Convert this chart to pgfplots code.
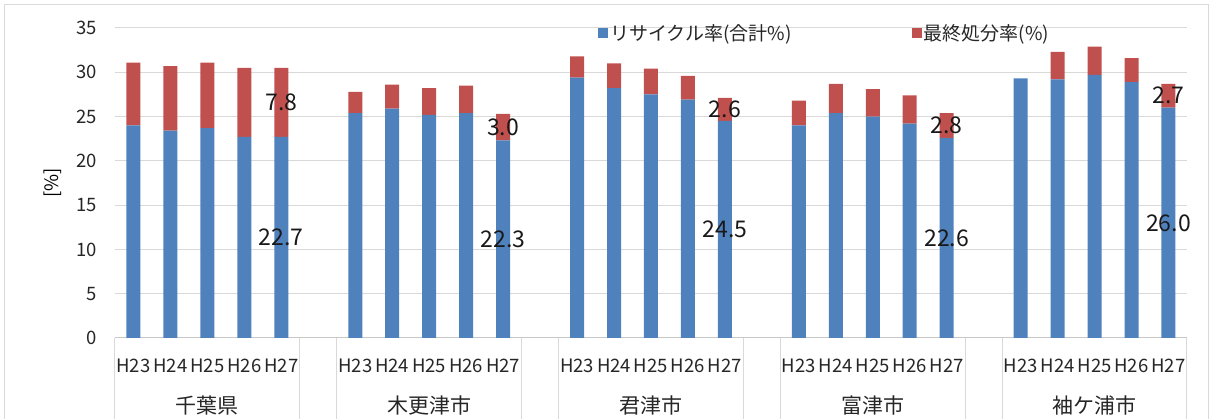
\documentclass[border=0pt]{standalone}
\usepackage{pgfplots}
\usepackage{pgfplotstable}
\pgfplotsset{compat=1.18}
\usepackage{fontspec}
\setmainfont{Noto Sans CJK JP}
\definecolor{cblue}{HTML}{4F81BD}
\definecolor{cred}{HTML}{C0504D}
\definecolor{cgrid}{HTML}{D9D9D9}
\definecolor{caxis}{HTML}{C8C8C8}
\tikzset{grp/.style={font=\fontsize{21}{24}\selectfont, anchor=base, text=black!85},
         dlab/.style={font=\fontsize{23}{26}\selectfont, text=black!90}}

\pgfplotstableread{
x rec fin
0 24.0 7.1
1 23.4 7.3
2 23.7 7.4
3 22.7 7.8
4 22.7 7.8
6 25.4 2.4
7 25.9 2.7
8 25.2 3.0
9 25.4 3.1
10 22.3 3.0
12 29.4 2.4
13 28.2 2.8
14 27.5 2.9
15 26.9 2.7
16 24.5 2.6
18 24.0 2.8
19 25.4 3.3
20 25.0 3.1
21 24.2 3.2
22 22.6 2.8
24 29.3 0.0
25 29.2 3.1
26 29.7 3.2
27 28.9 2.7
28 26.0 2.7
}\mytab

\begin{document}
\begin{tikzpicture}
\path[use as bounding box] (-115pt,-81pt) rectangle (1098pt,338pt);
\draw[cgrid, line width=1pt] (-110pt,-95pt) rectangle (1093pt,333pt);
\begin{axis}[
  at={(0,0)}, anchor=south west,
  scale only axis, width=1072pt, height=310pt,
  ybar stacked, bar width=14pt,
  xmin=-0.5, xmax=28.5, ymin=0, ymax=35,
  ytick={0,5,...,35},
  xtick={0,1,2,3,4,6,7,8,9,10,12,13,14,15,16,18,19,20,21,22,24,25,26,27,28},
  xticklabels={H23,H24,H25,H26,H27,H23,H24,H25,H26,H27,H23,H24,H25,H26,H27,H23,H24,H25,H26,H27,H23,H24,H25,H26,H27},
  ymajorgrids, grid style={cgrid, line width=1pt},
  axis x line*=bottom, axis y line*=left,
  y axis line style={draw=none},
  x axis line style={caxis, line width=1pt},
  major tick length=0pt,
  /pgf/number format/assume math mode=true,
  yticklabel style={anchor=east, inner sep=0pt, xshift=-18pt, font=\fontsize{18.5}{20}\selectfont, text=black!85},
  xticklabel style={anchor=base, inner sep=0pt, yshift=-35pt, font=\fontsize{18.5}{20}\selectfont, text=black!85},
  ylabel={[\%]},
  ylabel style={at={(axis description cs:-0.0578,0.5)}, anchor=center, font=\fontsize{18.5}{20}\selectfont},
  legend columns=2,
  legend style={at={(0.662,0.984)}, anchor=center, draw=none, fill=none,
    font=\fontsize{19}{22}\selectfont, text=black!85,
    /tikz/every even column/.append style={column sep=118pt}},
  legend image code/.code={\path[#1, draw=none] (0pt,-5pt) rectangle (10pt,5pt);},
  clip=false,
]
\addplot[fill=cblue, draw=none] table[x=x, y=rec] {\mytab};
\addlegendentry{リサイクル率(合計\%)}
\addplot[fill=cred, draw=none] table[x=x, y=fin] {\mytab};
\addlegendentry{最終処分率(\%)}

\draw[cgrid, line width=1pt] (axis cs:-0.5,0) -- ++(0pt,-85pt);
\draw[cgrid, line width=1pt] (axis cs:4.5,0) -- ++(0pt,-85pt);
\draw[cgrid, line width=1pt] (axis cs:5.5,0) -- ++(0pt,-85pt);
\draw[cgrid, line width=1pt] (axis cs:10.5,0) -- ++(0pt,-85pt);
\draw[cgrid, line width=1pt] (axis cs:11.5,0) -- ++(0pt,-85pt);
\draw[cgrid, line width=1pt] (axis cs:16.5,0) -- ++(0pt,-85pt);
\draw[cgrid, line width=1pt] (axis cs:17.5,0) -- ++(0pt,-85pt);
\draw[cgrid, line width=1pt] (axis cs:22.5,0) -- ++(0pt,-85pt);
\draw[cgrid, line width=1pt] (axis cs:23.5,0) -- ++(0pt,-85pt);
\draw[cgrid, line width=1pt] (axis cs:28.5,0) -- ++(0pt,-85pt);

\node[grp] at ([yshift=-76pt]axis cs:2,0) {千葉県};
\node[grp] at ([yshift=-76pt]axis cs:8,0) {木更津市};
\node[grp] at ([yshift=-76pt]axis cs:14,0) {君津市};
\node[grp] at ([yshift=-76pt]axis cs:20,0) {富津市};
\node[grp] at ([yshift=-76pt]axis cs:26,0) {袖ケ浦市};

\coordinate (a1) at (axis cs:4,11.35);
\coordinate (a2) at (axis cs:4,26.6);
\coordinate (b1) at (axis cs:10,11.15);
\coordinate (b2) at (axis cs:10,23.8);
\coordinate (c1) at (axis cs:16,12.25);
\coordinate (c2) at (axis cs:16,25.8);
\coordinate (d1) at (axis cs:22,11.3);
\coordinate (d2) at (axis cs:22,24.0);
\coordinate (e1) at (axis cs:28,13.0);
\coordinate (e2) at (axis cs:28,27.35);
\end{axis}
\node[dlab] at (a1) {22.7};
\node[dlab] at (a2) {7.8};
\node[dlab] at (b1) {22.3};
\node[dlab] at (b2) {3.0};
\node[dlab] at (c1) {24.5};
\node[dlab] at (c2) {2.6};
\node[dlab] at (d1) {22.6};
\node[dlab] at (d2) {2.8};
\node[dlab] at (e1) {26.0};
\node[dlab] at (e2) {2.7};
\end{tikzpicture}
\end{document}
